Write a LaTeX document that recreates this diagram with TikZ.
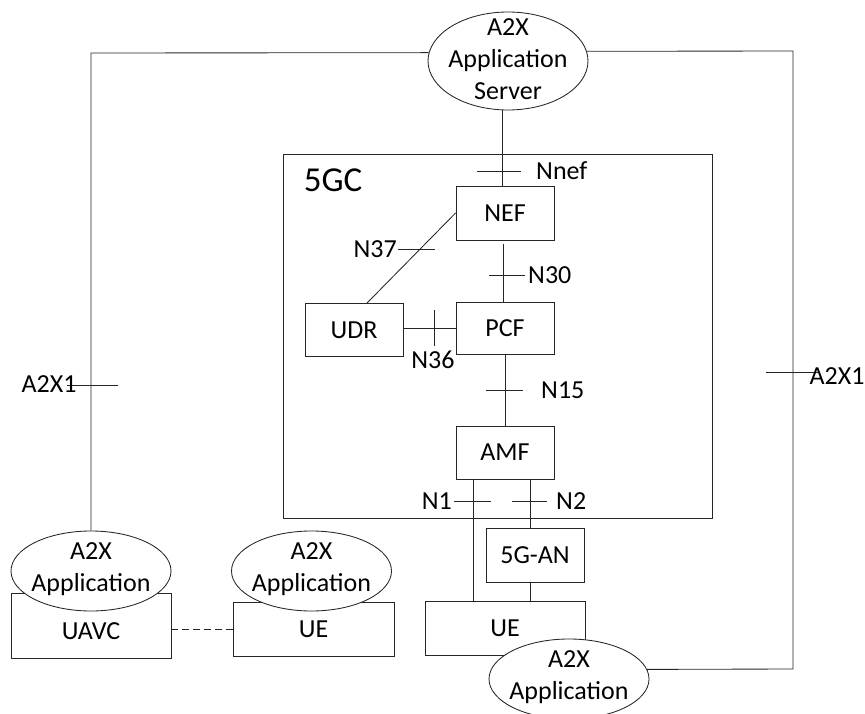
\documentclass[tikz,border=0pt]{standalone}
\usepackage{fontspec}
\setmainfont{Carlito}
\usetikzlibrary{shapes.geometric}
\newcommand\lblfont{\fontsize{26}{32}\selectfont}
\begin{document}
\begin{tikzpicture}[x=1pt,y=-1pt,
  line/.style={draw=black!85, line width=0.85pt},
  box/.style={line, rectangle, fill=white, inner sep=0pt, font=\lblfont},
  app/.style={line, ellipse, fill=white, inner sep=0pt, minimum width=160pt, minimum height=80pt},
  lab/.style={inner sep=0pt, font=\lblfont, align=center},
]
\useasboundingbox (0,0) rectangle (865,714);

% 5GC frame
\node[line, rectangle, inner sep=0pt, minimum width=429pt, minimum height=364pt] (core) at (497.5,336) {};
\node[lab, font=\fontsize{35}{40}\selectfont] (corelab) at (333,180) {5GC};

% network functions
\node[box, minimum width=98pt, minimum height=54pt] (nef) at (505,213) {NEF};
\node[box, minimum width=98pt, minimum height=52pt] (pcf) at (505,328) {PCF};
\node[box, minimum width=98pt, minimum height=53pt] (udr) at (354,330) {UDR};
\node[box, minimum width=98pt, minimum height=53pt] (amf) at (505,452.5) {AMF};
\node[box, minimum width=98pt, minimum height=54pt] (gan) at (535,555) {5G-AN};
\node[box, minimum width=160pt, minimum height=54pt] (ue) at (505,628) {UE};
\node[box, minimum width=160pt, minimum height=65pt] (uavc) at (91,625.5) {};
\node[lab] (uavct) at (91,631) {UAVC};
\node[box, minimum width=161pt, minimum height=54pt] (uem) at (313.5,629) {UE};

% application ellipses
\node[app, minimum height=98pt] (srv) at (508,61) {};
\node[lab] (srvt) at (508,59) {A2X\\Application\\Server};
\node[app] (appL) at (91,571) {};
\node[lab] (appLt) at (91,569) {A2X\\Application};
\node[app] (appM) at (311.5,571) {};
\node[lab] (appMt) at (311.5,569) {A2X\\Application};

% connectors
\coordinate (lc) at (91,53);
\coordinate (rc) at (793,51);
\coordinate (rb) at (793,669);
\draw[line] (srv.174) -- (lc) -- (appL.north);
\draw[line] ([xshift=-3pt]nef.north |- srv.south) -- ([xshift=-3pt]nef.north);
\draw[line] (nef.west) -- ([xshift=13pt]udr.north);
\draw[line] ([xshift=-2pt,yshift=-4pt]nef.south) -- ([xshift=-2pt]pcf.north);
\draw[line] (udr.east |- pcf.west) -- (pcf.west);
\draw[line] (pcf.south) -- (amf.north);
\draw[line] ([xshift=-32pt]amf.south) -- ([xshift=-32pt]amf.south |- ue.north);
\draw[line] ([xshift=25pt]amf.south) -- ([xshift=25pt]amf.south |- gan.north);
\draw[line] ([xshift=-5pt]gan.south) -- ([xshift=-5pt]gan.south |- ue.north);
\draw[line, dash pattern=on 7pt off 4pt] (uavc.east |- uem.west) -- (uem.west);

% bottom-right application (over UE box)
\node[app] (appB) at (569,679) {};
\node[lab] (appBt) at (569,677) {A2X\\Application};
\draw[line] (srv.7) -- (rc) -- (rb) -- (appB.7);

% reference point ticks
\draw[line] (477,171) -- (521,171);
\draw[line] (398,249) -- (435,249);
\draw[line] (489,275) -- (525,275);
\draw[line] (434,310) -- (434,346);
\draw[line] (486,390) -- (523,390);
\draw[line] (454,501) -- (491,501);
\draw[line] (512,501) -- (547,501);
\draw[line] (67,385) -- (118,385);
\draw[line] (766,372) -- (818,372);

% labels
\node[lab, anchor=west] (lnnef) at (536,171) {Nnef};
\node[lab, anchor=east] (ln37) at (397,249) {N37};
\node[lab, anchor=west] (ln30) at (528,275) {N30};
\node[lab] (ln36) at (433,360) {N36};
\node[lab, anchor=west] (ln15) at (541,390) {N15};
\node[lab, anchor=east] (ln1) at (452,501) {N1};
\node[lab, anchor=west] (ln2) at (556,501) {N2};
\node[lab] (la1) at (49,384) {A2X1};
\node[lab] (la2) at (837,376) {A2X1};
\end{tikzpicture}
\end{document}
